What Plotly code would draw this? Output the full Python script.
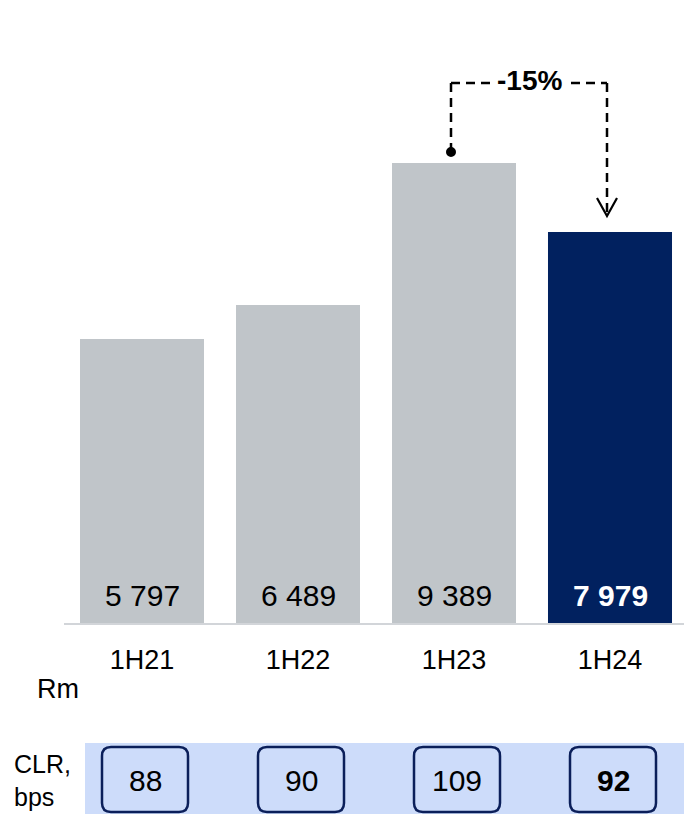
import plotly.graph_objects as go

# Half-year periods and impairment charges (Rm)
periods = ["1H21", "1H22", "1H23", "1H24"]
charges = [5797, 6489, 9389, 7979]
# Credit loss ratio per period (bps)
clr_bps = [88, 90, 109, 92]
change_label = "-15%"

FONT = "Liberation Sans, Arial, sans-serif"
GREY = "#c0c5c9"
NAVY = "#01215f"
BAND = "#cddcfa"
W, H = 684, 814

# Plot geometry (pixels)
x_left_px, base_px = 64, 623
px_per_cat = 156.0
px_per_unit = 0.049
y_top = base_px / px_per_unit


def dx(px):
    """Horizontal pixel distance -> category units."""
    return px / px_per_cat


def dy(px):
    """Vertical pixel distance -> value units."""
    return px / px_per_unit


def py(px):
    """Pixel row -> paper y."""
    return 1 - px / H


colors = [GREY] * (len(periods) - 1) + [NAVY]

fig = go.Figure()
fig.add_trace(go.Bar(
    x=periods, y=charges, marker=dict(color=colors, line=dict(width=0)),
    width=0.795, hoverinfo="skip",
))

annotations = []
# Value labels sitting at the foot of each bar
for i, (p, v) in enumerate(zip(periods, charges)):
    last = i == len(periods) - 1
    txt = f"{v:,}".replace(",", " ")
    annotations.append(dict(
        x=p, y=0, xref="x", yref="y", yanchor="middle", yshift=28,
        text=f"<b>{txt}</b>" if last else txt, showarrow=False,
        font=dict(family=FONT, size=30, color="white" if last else "black"),
    ))

# Connector between the last two periods
i0, i1 = len(periods) - 2, len(periods) - 1
x0 = i0 - dx(3)
x1 = i1 - dx(3)
y_start = charges[i0] + dy(11)
y_end = charges[i1] + dy(16)
y_level = charges[i0] + dy(80)
dash = dict(color="black", width=2.5, dash="9px,6px")
shapes = [
    dict(type="line", xref="x", yref="y", x0=x0, x1=x0, y0=y_start, y1=y_level, line=dash),
    dict(type="line", xref="x", yref="y", x0=x0, x1=x1, y0=y_level, y1=y_level, line=dash),
    dict(type="line", xref="x", yref="y", x0=x1, x1=x1, y0=y_level, y1=y_end + dy(2), line=dash),
    dict(type="path", xref="x", yref="y",
         path=f"M {x1 - dx(10)},{y_end + dy(18)} L {x1},{y_end} L {x1 + dx(10)},{y_end + dy(18)}",
         line=dict(color="black", width=2.2)),
    dict(type="circle", xref="x", yref="y",
         x0=x0 - dx(5), x1=x0 + dx(5), y0=y_start - dy(5), y1=y_start + dy(5),
         fillcolor="black", line=dict(width=0)),
]
annotations.append(dict(
    x=(x0 + x1) / 2, y=y_level, xref="x", yref="y", showarrow=False,
    text=f"<b>{change_label}</b>", bgcolor="white", borderpad=5, yshift=2,
    font=dict(family=FONT, size=28, color="black"),
))

# CLR band with rounded boxes
band_top = 743
shapes.append(dict(type="rect", xref="paper", yref="paper", layer="below",
                   x0=85 / W, x1=1, y0=0, y1=py(band_top),
                   fillcolor=BAND, line=dict(width=0)))
box_top, box_bot = 747, 812
hw, r = 43, 9
for i, (p, c) in enumerate(zip(periods, clr_bps)):
    cx = i + dx(3)
    xa, xb = cx - dx(hw), cx + dx(hw)
    ya, yb = py(box_top), py(box_bot)
    rx, ry = dx(r), r / H
    path = (f"M {xa + rx},{ya} L {xb - rx},{ya} Q {xb},{ya} {xb},{ya - ry} "
            f"L {xb},{yb + ry} Q {xb},{yb} {xb - rx},{yb} L {xa + rx},{yb} "
            f"Q {xa},{yb} {xa},{yb + ry} L {xa},{ya - ry} Q {xa},{ya} {xa + rx},{ya} Z")
    shapes.append(dict(type="path", xref="x", yref="paper", path=path,
                       fillcolor=BAND, line=dict(color="#0b1f5a", width=2.5)))
    last = i == len(periods) - 1
    annotations.append(dict(
        x=cx, y=py((box_top + box_bot) / 2 + 1), xref="x", yref="paper",
        text=f"<b>{c}</b>" if last else str(c), showarrow=False,
        font=dict(family=FONT, size=30, color="black"), yanchor="middle",
    ))

# Side labels
annotations += [
    dict(x=35 / W, y=py(689), xref="paper", yref="paper", xanchor="left", yanchor="middle",
         text="Rm", showarrow=False, font=dict(family=FONT, size=27, color="black")),
    dict(x=12 / W, y=py(780), xref="paper", yref="paper", xanchor="left", yanchor="middle",
         text="CLR,<br>bps", align="left", showarrow=False,
         font=dict(family=FONT, size=25, color="black")),
]

fig.update_layout(
    width=W, height=H, margin=dict(l=0, r=0, t=0, b=0),
    paper_bgcolor="white", plot_bgcolor="white", showlegend=False,
    xaxis=dict(domain=[x_left_px / W, 1], range=[-0.5, -0.5 + (W - x_left_px) / px_per_cat],
               type="category", showline=True, linecolor="#d2d5d9", linewidth=2,
               ticks="", showgrid=False, zeroline=False, ticklabelstandoff=12,
               tickfont=dict(family=FONT, size=27, color="black")),
    yaxis=dict(domain=[py(base_px), 1], range=[0, y_top], visible=False,
               showgrid=False, zeroline=False),
    shapes=shapes, annotations=annotations,
)

fig.write_html("out.html")
